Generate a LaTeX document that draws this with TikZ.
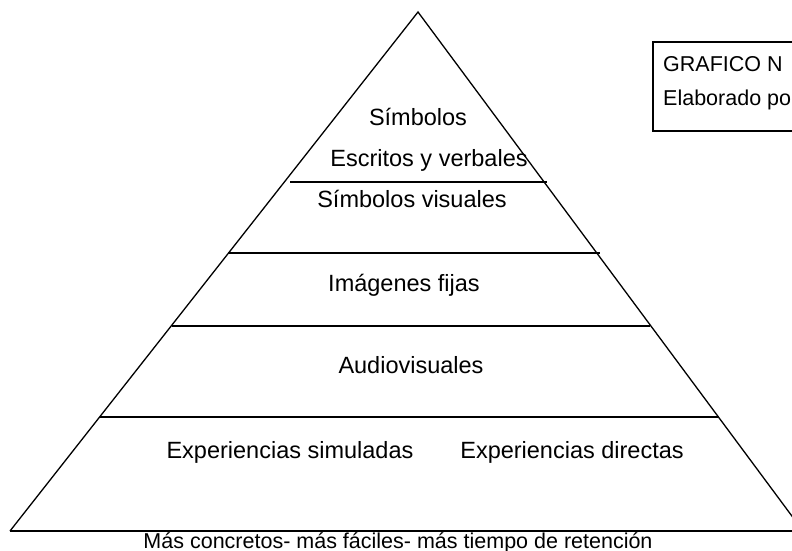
\documentclass[tikz,border=0pt]{standalone}
\usepackage{fontspec}
\setmainfont{Liberation Sans}
\begin{document}
\begin{tikzpicture}[x=1pt,y=-1pt,
  edge/.style={line width=1.3pt,black},
  lbl/.style={anchor=base,inner sep=0pt,font=\fontsize{23.5}{28}\selectfont},
  footlbl/.style={anchor=base,inner sep=0pt,font=\fontsize{21.5}{26}\selectfont},
  boxlbl/.style={anchor=base west,inner sep=0pt,font=\fontsize{21.5}{25}\selectfont}]
\useasboundingbox (0,0) rectangle (792,551);
\clip (0,0) rectangle (792,551);
% pyramid
\coordinate (apex) at (418,12);
\coordinate (bl) at (10,531);
\coordinate (br) at (803,531);
\draw[edge,line join=miter] (bl) -- (apex) -- (br);
\draw[edge] (bl) -- (br);
% level lines
\coordinate (l1a) at (290,182); \coordinate (l1b) at (547,182);
\coordinate (l2a) at (228,253); \coordinate (l2b) at (600,253);
\coordinate (l3a) at (172,326); \coordinate (l3b) at (650,326);
\coordinate (l4a) at (100,417); \coordinate (l4b) at (719,417);
\draw[edge] (l1a) -- (l1b);
\draw[edge] (l2a) -- (l2b);
\draw[edge] (l3a) -- (l3b);
\draw[edge] (l4a) -- (l4b);
% labels
\node[lbl] (t1) at (418,125) {Símbolos};
\node[lbl] (t2) at (429,166) {Escritos y verbales};
\node[lbl] (t3) at (412,207) {Símbolos visuales};
\node[lbl] (t4) at (404,291) {Imágenes fijas};
\node[lbl] (t5) at (411,373) {Audiovisuales};
\node[lbl] (t6) at (290,458) {Experiencias simuladas};
\node[lbl] (t7) at (572,458) {Experiencias directas};
\node[footlbl] (t8) at (398,548.5) {Más concretos- más fáciles- más tiempo de retención};
% box
\draw[line width=1.2pt] (810,42) -- (653,42) -- (653,131) -- (810,131);
\node[boxlbl] (b1) at (663,71) {GRAFICO N};
\node[boxlbl] (b2) at (663,105) {Elaborado po};
\end{tikzpicture}
\end{document}
